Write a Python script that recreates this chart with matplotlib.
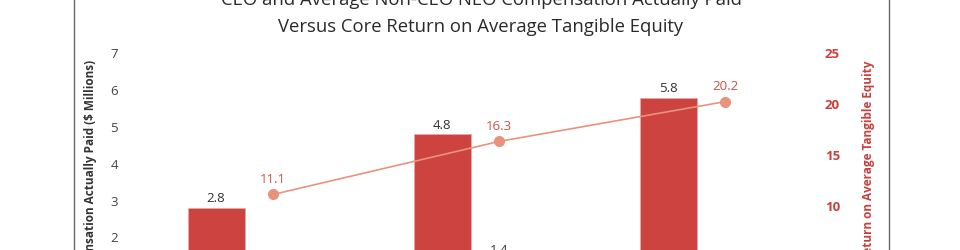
import matplotlib
matplotlib.use("Agg")
import matplotlib.pyplot as plt
from matplotlib.lines import Line2D
import numpy as np

plt.rcParams['font.family'] = ['Open Sans', 'DejaVu Sans']

# data
years = ["2022", "2023", "2024"]
ceo_cap = [2.8, 4.8, 5.8]
non_ceo_cap = [1.1, 1.4, 1.2]
core_rote = [11.1, 16.3, 20.2]

bar_red = "#cc4340"
line_col = "#e8937e"
label_red = "#d0504a"
text_col = "#333333"

W, H = 960, 250
fig = plt.figure(figsize=(W / 100, H / 100), dpi=100)

# axes placed in pixel terms, plot area runs past the bottom of the crop
left_px, right_px, top_px, bottom_px = 125, 818, 40, 311
ax = fig.add_axes([left_px / W, (H - bottom_px) / H,
                   (right_px - left_px) / W, (bottom_px - top_px) / H])
ax2 = ax.twinx()

x = np.arange(len(years))
w = 0.252

b1 = ax.bar(x - w, ceo_cap, w, color=bar_red, edgecolor="#eaa9a6", linewidth=0.6, zorder=2)
b2 = ax.bar(x, non_ceo_cap, w, color="#8c8c8c", edgecolor="#bdbdbd", linewidth=0.6, zorder=2)

for rect, v in zip(b1, ceo_cap):
    ax.annotate(f"{v:.1f}", (rect.get_x() + rect.get_width() / 2, v),
                xytext=(0, 2), textcoords="offset points", ha="center", va="bottom",
                fontsize=9.5, color=text_col)
for rect, v in zip(b2, non_ceo_cap):
    ax.annotate(f"{v:.1f}", (rect.get_x() + rect.get_width() / 2, v),
                xytext=(0, 2), textcoords="offset points", ha="center", va="bottom",
                fontsize=9.5, color=text_col)

ax2.plot(x, core_rote, color=line_col, linewidth=1.2, marker="o", markersize=7,
         zorder=3)
for xi, v in zip(x, core_rote):
    ax2.annotate(f"{v:.1f}", (xi, v), xytext=(0, 6), textcoords="offset points",
                 ha="center", va="bottom", fontsize=9.5, color=label_red)

ax.set_xlim((left_px - 273) / 226, (right_px - 273) / 226)
ax.set_ylim(0, (bottom_px - top_px) / 36.8)
ax2.set_ylim((307.7 - bottom_px) / 10.2, (307.7 - top_px) / 10.2)

ax.set_yticks(range(0, 8))
ax2.set_yticks(range(0, 26, 5))
ax.set_xticks([])

for a in (ax, ax2):
    for s in a.spines.values():
        s.set_visible(False)
    a.patch.set_visible(False)

ax.tick_params(axis="y", length=0, pad=5, labelsize=9.5, labelcolor="#444444")
ax2.tick_params(axis="y", length=0, pad=5, labelsize=9.5, labelcolor="#c9403d")
for t in ax2.get_yticklabels():
    t.set_fontweight("bold")

ax.set_ylabel("Compensation Actually Paid ($ Millions)", fontsize=8.5, fontweight="bold",
              color="#333333")
ax.yaxis.set_label_coords((97 - left_px) / (right_px - left_px), 0.5)
ax2.set_ylabel("Core Return on Average Tangible Equity", fontsize=8.5, fontweight="bold",
               color="#c9403d", rotation=90)
ax2.yaxis.set_label_coords((862 - left_px) / (right_px - left_px), 0.5)

fig.text(481 / W, (H - 5) / H, "CEO and Average Non-CEO NEO Compensation Actually Paid",
         ha="center", va="baseline", fontsize=13.3, color="#2a2a2a")
fig.text(481 / W, (H - 32) / H, "Versus Core Return on Average Tangible Equity",
         ha="center", va="baseline", fontsize=13.3, color="#2a2a2a")

# frame lines at the sides
fig.add_artist(Line2D([73.5 / W, 73.5 / W], [0, 1], color="#666666", linewidth=1))
fig.add_artist(Line2D([888.5 / W, 888.5 / W], [0, 1], color="#666666", linewidth=1))

fig.savefig("out.png", dpi=100)
